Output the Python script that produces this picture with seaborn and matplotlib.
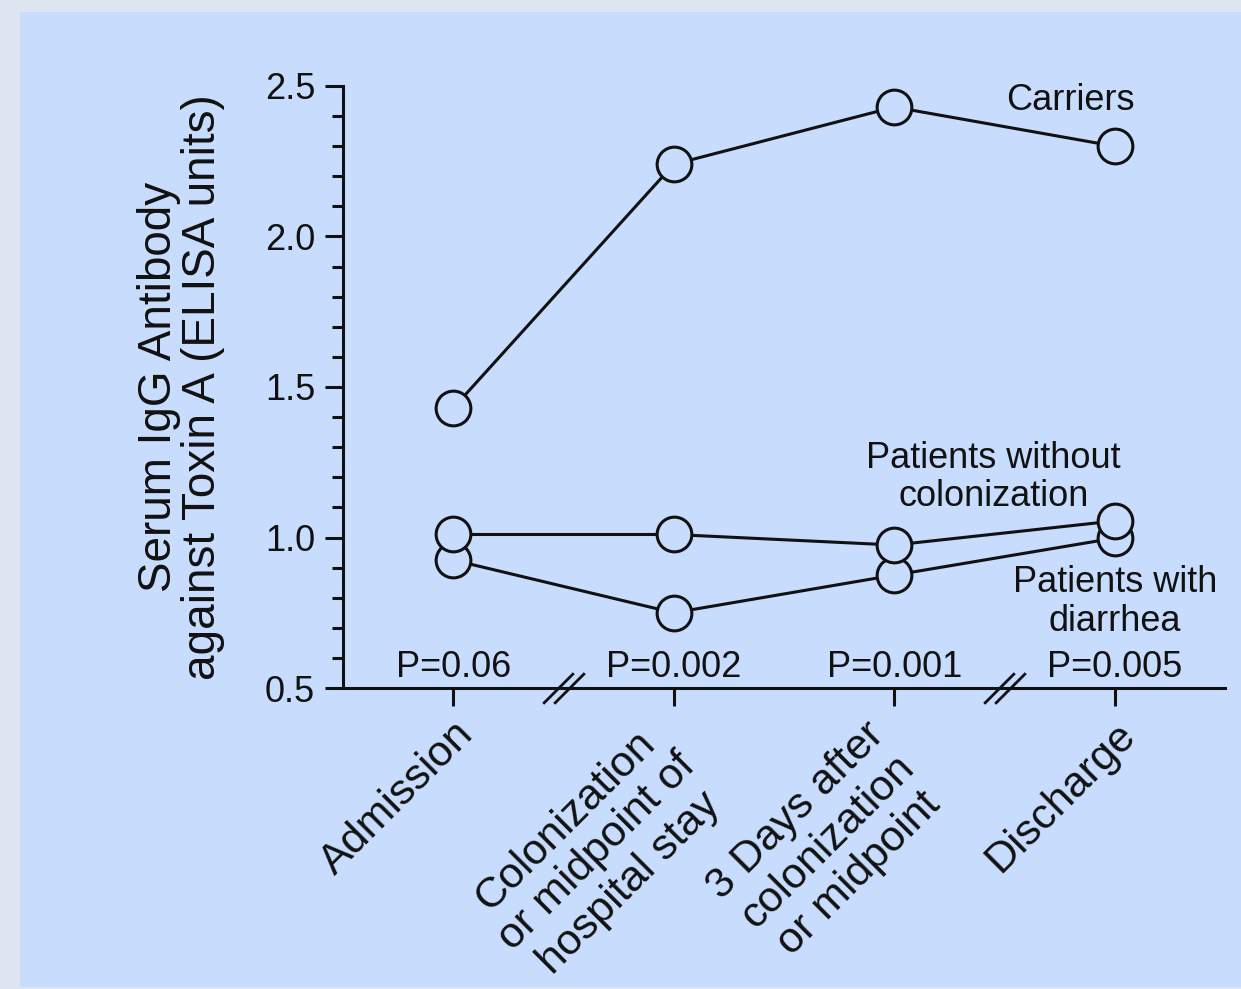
import numpy as np
import pandas as pd
import matplotlib
matplotlib.use("Agg")
import matplotlib.pyplot as plt
import seaborn as sns
from matplotlib.patches import Rectangle
from matplotlib.ticker import MultipleLocator
from matplotlib.transforms import ScaledTranslation

# data
time_points = ["Admission",
               "Colonization\nor midpoint of\nhospital stay",
               "3 Days after\ncolonization\nor midpoint",
               "Discharge"]
carriers = [1.43, 2.24, 2.43, 2.30]
diarrhea = [0.925, 0.75, 0.875, 0.998]
no_colonization = [1.01, 1.01, 0.975, 1.055]
p_values = ["P=0.06", "P=0.002", "P=0.001", "P=0.005"]
y_ticks = [0.5, 1.0, 1.5, 2.0, 2.5]
break_positions = [0.5, 2.5]

group_names = ["Carriers", "Patients with\ndiarrhea", "Patients without\ncolonization"]
label_pos = {"Carriers": (2.80, 2.453),
             "Patients with\ndiarrhea": (3.0, 0.786),
             "Patients without\ncolonization": (2.45, 1.20)}

panel_blue = "#c8dcfe"
border = "#dde5f0"
ink = "#111111"

sns.set_theme(style="ticks")
plt.rcParams["font.family"] = ["Liberation Sans", "DejaVu Sans"]

fig = plt.figure(figsize=(12.41, 9.89), dpi=100, facecolor=border)
fig.patches.append(Rectangle((20 / 1241, 2 / 989), 1 - 20 / 1241, 975 / 989,
                             transform=fig.transFigure, facecolor=panel_blue,
                             edgecolor="none", zorder=-10))
ax = fig.add_axes([343 / 1241, 1 - 688 / 989, (1225 - 343) / 1241, (688 - 86) / 989])
ax.set_zorder(2)
ax.set_facecolor("none")

x = np.arange(len(time_points))
df = pd.DataFrame({
    "x": np.tile(x, 3),
    "value": carriers + diarrhea + no_colonization,
    "group": np.repeat(group_names, len(x)),
})

sns.lineplot(data=df, x="x", y="value", hue="group", hue_order=group_names,
             palette={g: ink for g in group_names}, marker="o", ms=25,
             markerfacecolor=panel_blue, markeredgecolor=ink, mew=2.2,
             lw=2.2, legend=False, ax=ax, clip_on=False)

for name in group_names:
    lx, ly = label_pos[name]
    ax.text(lx, ly, name, ha="center", va="center", fontsize=26, linespacing=1.12,
            color=ink)

for xi, p in zip(x, p_values):
    ax.annotate(p, (xi, 0.5), xytext=(0, 8), textcoords="offset points",
                ha="center", va="baseline", fontsize=26, color=ink)

# axis break marks
for b in break_positions:
    for dx in (-0.027, 0.027):
        ax.plot(b + dx, 0.5, marker=[(-1, -1), (1, 1)], ms=22, mew=2,
                color=ink, clip_on=False, zorder=5)

ax.set_xlim(-0.5, 3.5)
ax.set_ylim(0.5, 2.5)
ax.set_xticks(x, time_points, rotation=45, ha="right", rotation_mode="anchor",
              multialignment="center", fontsize=31, linespacing=1.15)
ax.set_yticks(y_ticks, [f"{v:.1f}" for v in y_ticks], fontsize=26)
ax.yaxis.set_minor_locator(MultipleLocator(0.1))
ax.tick_params(axis="y", which="major", length=13, width=2.2, pad=7, colors=ink)
ax.tick_params(axis="y", which="minor", length=8, width=2.2, color=ink)
ax.tick_params(axis="x", length=13, width=2.2, pad=6, colors=ink)
sns.despine(ax=ax)
for s in ["left", "bottom"]:
    ax.spines[s].set_linewidth(2.2)
    ax.spines[s].set_color(ink)

# multi-line category labels sit a bit further left in the original
shift = ScaledTranslation(-30 / 100, 0, fig.dpi_scale_trans)
for lab in ax.get_xticklabels():
    if "\n" in lab.get_text():
        lab.set_transform(lab.get_transform() + shift)

ax.set_xlabel("")
ax.set_ylabel("Serum IgG Antibody\nagainst Toxin A (ELISA units)", fontsize=33,
              linespacing=1.0, color=ink)
ax.yaxis.set_label_coords(-0.134, 0.5)

fig.savefig("out.png", dpi=100, facecolor=border)
